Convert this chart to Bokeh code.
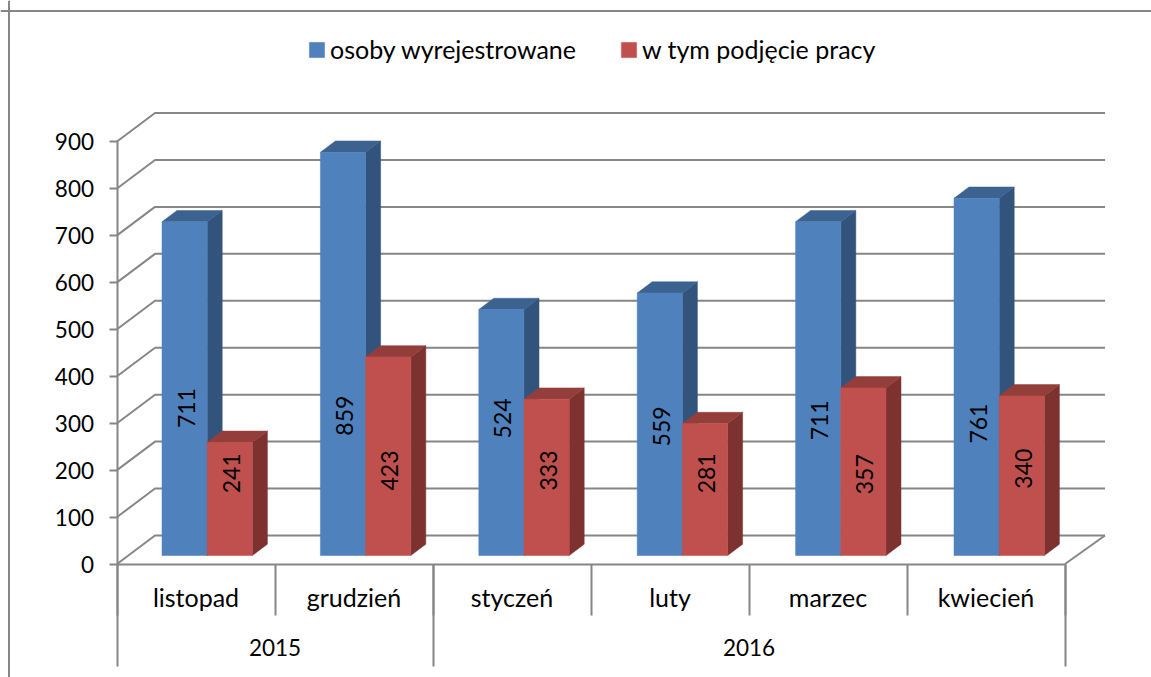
from bokeh.plotting import figure
from bokeh.embed import file_html
from bokeh.resources import INLINE
from bokeh.core.properties import value
from bokeh.models import LinearAxis, FixedTicker, Legend, LegendItem, Span, ColumnDataSource
import math

years = ["2015", "2016"]
year_spans = [(0, 2), (2, 6)]
months = ["listopad", "grudzień", "styczeń", "luty", "marzec", "kwiecień"]
series_names = ["osoby wyrejestrowane", "w tym podjęcie pracy"]
wyrejestrowane = [711, 859, 524, 559, 711, 761]
podjecie_pracy = [241, 423, 333, 281, 357, 340]
value_ticks = [0, 100, 200, 300, 400, 500, 600, 700, 800, 900]

# height along the bar at which the original placed each rotated label
label_at_blue = [314, 298, 292, 275, 288, 281]
label_at_red = [175, 181, 181, 175, 173, 185]

W, H = 1151, 677
PX_X = 158.0      # pixels per category
PX_Y = 0.4694     # pixels per value unit
LEFT_PX = 116.5   # frame pixel of x = 0
BASE_PX = 563.5   # frame pixel of value 0

dx = lambda px: px / PX_X
dy = lambda px: px / PX_Y

GRID = "#868686"
BLUE, BLUE_SIDE, BLUE_TOP = "#4f81bd", "#31537c", "#3c6290"
RED, RED_SIDE, RED_TOP = "#c0504d", "#7d3230", "#943e3b"
FONT = "Lato"
FS = "22.5px"
FS_LABEL = "23px"
FS_TEXT = "25px"

p = figure(width=W, height=H, output_backend="svg", toolbar_location=None,
           x_axis_location=None, y_axis_location=None,
           x_range=(-LEFT_PX / PX_X, (W - LEFT_PX) / PX_X),
           y_range=(-(H - BASE_PX) / PX_Y, BASE_PX / PX_Y),
           min_border=0, outline_line_color=None, background_fill_color="white",
           border_fill_color="white")
p.grid.visible = False

# page frame lines of the picture
p.add_layout(Span(location=H - 10.5, location_units="screen", dimension="width", line_color=GRID, line_width=2))
p.add_layout(Span(location=8.5, location_units="screen", dimension="height", line_color=GRID, line_width=2))

# walls: oblique + back lines for every tick
DEPTH_L, DEPTH_R, DEPTH_Y = dx(38), dx(40), dy(28.5)
wall_x, wall_y = [], []
for v in value_ticks:
    wall_x.append([0, DEPTH_L, 6 + DEPTH_R])
    wall_y.append([v, v + DEPTH_Y, v + DEPTH_Y])
wall_x.append([6, 6 + DEPTH_R])
wall_y.append([0, DEPTH_Y])
p.multi_line(wall_x, wall_y, line_color=GRID, line_width=2)

# bars
BAR_W = dx(45.2)
BAR_STEP = dx(158.4)
SHIFT_X, SHIFT_Y = dx(11.2), dy(8.5)    # the bars stand a little behind the axis plane
SIDE_X, SIDE_Y = dx(15), dy(11.3)


def bars(vals, first, front, side, top):
    lefts = [i * BAR_STEP + 0.5 + SHIFT_X + (first - 1) * BAR_W for i in range(len(vals))]
    rights = [l + BAR_W for l in lefts]
    bottoms = [SHIFT_Y] * len(vals)
    tops = [SHIFT_Y + v for v in vals]
    p.patches([[r, r + SIDE_X, r + SIDE_X, r] for r in rights],
              [[b, b + SIDE_Y, t + SIDE_Y, t] for b, t in zip(bottoms, tops)],
              fill_color=side, line_color=side, line_width=0.5)
    p.patches([[l, l + SIDE_X, r + SIDE_X, r] for l, r in zip(lefts, rights)],
              [[t, t + SIDE_Y, t + SIDE_Y, t] for t in tops],
              fill_color=top, line_color=top, line_width=0.5)
    return p.quad(left=lefts, right=rights, bottom=bottoms, top=tops,
                  fill_color=front, line_color=front, line_width=0.5), lefts


r_blue, blue_lefts = bars(wyrejestrowane, 0, BLUE, BLUE_SIDE, BLUE_TOP)
r_red, red_lefts = bars(podjecie_pracy, 1, RED, RED_SIDE, RED_TOP)

# rotated value labels
LAB_DX = dx(1.5)
for lefts, vals, ats in ((blue_lefts, wyrejestrowane, label_at_blue),
                         (red_lefts, podjecie_pracy, label_at_red)):
    src = ColumnDataSource(dict(x=[l + BAR_W / 2 + LAB_DX for l in lefts],
                                y=[SHIFT_Y + a for a in ats],
                                t=[str(v) for v in vals]))
    p.text(x="x", y="y", text="t", source=src, angle=math.pi / 2,
           text_align="center", text_baseline="middle", text_color="black",
           text_font=value(FONT), text_font_size=FS_LABEL)


def style(ax, size=FS):
    ax.axis_line_color = GRID
    ax.axis_line_width = 2
    ax.major_tick_line_color = GRID
    ax.major_tick_line_width = 2
    ax.minor_tick_line_color = None
    ax.major_tick_in = 0
    ax.major_label_text_font = FONT
    ax.major_label_text_font_size = size
    ax.major_label_text_color = "black"
    return ax


# value axis
yaxis = style(LinearAxis(ticker=FixedTicker(ticks=value_ticks), fixed_location=0, bounds=(0, 900)))
yaxis.major_tick_out = 8
yaxis.major_label_standoff = 15
p.add_layout(yaxis, "left")

# category axis: month separators, month labels, year separators, year labels
n = len(months)
a1 = style(LinearAxis(ticker=FixedTicker(ticks=list(range(n + 1))), fixed_location=0, bounds=(0, n)))
a1.major_tick_out = 51
a1.major_label_text_color = None
a1.major_label_overrides = {i: "" for i in range(n + 1)}
p.add_layout(a1, "below")

a2 = style(LinearAxis(ticker=FixedTicker(ticks=[i + 0.5 for i in range(n)]), fixed_location=0, bounds=(0, n)), FS_TEXT)
a2.axis_line_color = None
a2.major_tick_line_color = None
a2.major_tick_out = 0
a2.major_label_standoff = 18
a2.major_label_overrides = {i + 0.5: m for i, m in enumerate(months)}
p.add_layout(a2, "below")

edges = sorted({e for s in year_spans for e in s})
a3 = style(LinearAxis(ticker=FixedTicker(ticks=edges), fixed_location=0, bounds=(0, n)))
a3.axis_line_color = None
a3.major_tick_out = 102
a3.major_label_overrides = {e: "" for e in edges}
p.add_layout(a3, "below")

mids = [sum(s) / 2 for s in year_spans]
a4 = style(LinearAxis(ticker=FixedTicker(ticks=mids), fixed_location=0, bounds=(0, n)))
a4.axis_line_color = None
a4.major_tick_line_color = None
a4.major_tick_out = 0
a4.major_label_standoff = 75
a4.major_label_overrides = {m: y for m, y in zip(mids, years)}
p.add_layout(a4, "below")

legend = Legend(items=[LegendItem(label=series_names[0], renderers=[r_blue]),
                       LegendItem(label=series_names[1], renderers=[r_red])],
                orientation="horizontal", location=(307, H - 64),
                border_line_color=None, background_fill_alpha=0,
                glyph_width=19, glyph_height=19, label_standoff=4, spacing=43,
                padding=0, margin=0,
                label_text_font=FONT, label_text_font_size=FS_TEXT, label_text_color="black")
p.add_layout(legend, "center")

open("out.html", "w").write(file_html(p, INLINE))
